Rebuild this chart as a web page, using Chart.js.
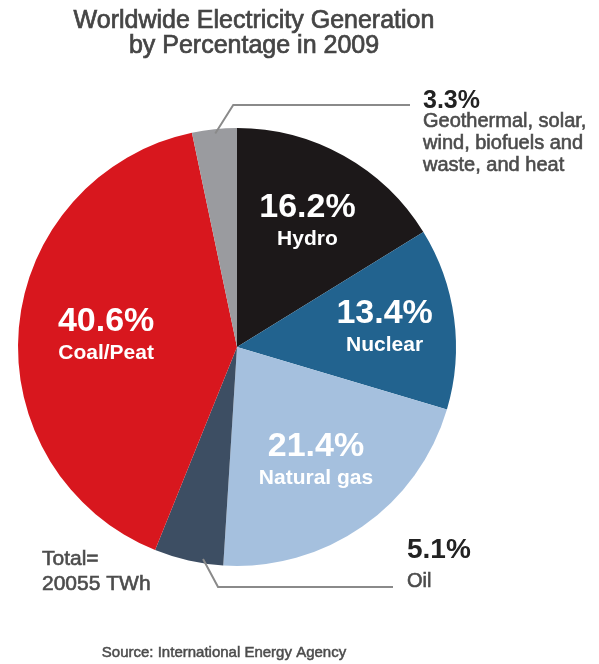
<!DOCTYPE html>
<html>
<head>
<meta charset="utf-8">
<title>Worldwide Electricity Generation 2009</title>
<script src="https://cdn.jsdelivr.net/npm/chart.js@4"></script>
<style>
  html, body { margin: 0; padding: 0; background: #fff; }
  #pie { display: block; }
</style>
</head>
<body>
<canvas id="pie" width="599" height="664"></canvas>
<script>
// Worldwide electricity generation by source, 2009 (IEA)

const categories = ['Hydro', 'Nuclear', 'Natural gas', 'Oil', 'Coal/Peat', 'Other'];
const shares = [16.2, 13.4, 21.4, 5.1, 40.6, 3.3];
const titleLines = ['Worldwide Electricity Generation', 'by Percentage in 2009'];
const otherLines = ['Geothermal, solar,', 'wind, biofuels and', 'waste, and heat'];
const totalLines = ['Total=', '20055 TWh'];
const sourceText = 'Source: International Energy Agency';

const sliceColors = [
    '#1c1819', // hydro
    '#22638f', // nuclear
    '#a5c0de', // natural gas
    '#3d4e63', // oil
    '#d8171e', // coal
    '#9a9b9f'  // other
];

const FONT = '"Liberation Sans", Arial, Helvetica, sans-serif';

// how far out (fraction of radius) the inside labels sit
const insideLabelPos = { 0: 0.66, 1: 0.68, 2: 0.63, 4: 0.60 };

function arcPoint(arc, along, frac) {
    const a = arc.startAngle + (arc.endAngle - arc.startAngle) * along;
    return {
        x: arc.x + Math.cos(a) * arc.outerRadius * frac,
        y: arc.y + Math.sin(a) * arc.outerRadius * frac
    };
}

// regular font with a thin outline, looks closer to a medium weight
function mediumText(ctx, text, x, y) {
    ctx.fillText(text, x, y);
    ctx.strokeText(text, x, y);
}

const labelPlugin = {
    id: 'sliceLabels',
    afterDraw(chart) {
        const ctx = chart.ctx;
        const arcs = chart.getDatasetMeta(0).data;
        ctx.save();

        // title
        ctx.fillStyle = '#454545';
        ctx.strokeStyle = '#454545';
        ctx.lineWidth = 0.7;
        ctx.textAlign = 'center';
        ctx.textBaseline = 'alphabetic';
        ctx.font = '25px ' + FONT;
        mediumText(ctx, titleLines[0], 254, 28);
        mediumText(ctx, titleLines[1], 254, 53);

        // labels inside the slices
        ctx.fillStyle = '#ffffff';
        for (const key of Object.keys(insideLabelPos)) {
            const i = +key;
            const p = arcPoint(arcs[i], 0.5, insideLabelPos[i]);
            ctx.font = 'bold 34px ' + FONT;
            ctx.fillText(shares[i].toFixed(1) + '%', p.x, p.y - 4);
            ctx.font = 'bold 21px ' + FONT;
            ctx.fillText(categories[i], p.x, p.y + 24);
        }

        // leader lines
        ctx.strokeStyle = '#8a8a8a';
        ctx.lineWidth = 2;
        let s = arcPoint(arcs[5], 0.51, 0.98);
        ctx.beginPath();
        ctx.moveTo(s.x, s.y);
        ctx.lineTo(s.x + 18, 105);
        ctx.lineTo(410, 105);
        ctx.stroke();

        s = arcPoint(arcs[3], 0.3, 0.98);
        ctx.beginPath();
        ctx.moveTo(s.x, s.y);
        ctx.lineTo(s.x + 15, 587);
        ctx.lineTo(393, 587);
        ctx.stroke();

        // outside labels
        ctx.textAlign = 'left';
        ctx.fillStyle = '#222222';
        ctx.font = 'bold 25px ' + FONT;
        ctx.fillText(shares[5].toFixed(1) + '%', 423, 108);
        ctx.fillStyle = '#4c4c4c';
        ctx.strokeStyle = '#4c4c4c';
        ctx.lineWidth = 0.6;
        ctx.font = '20px ' + FONT;
        otherLines.forEach((t, k) => mediumText(ctx, t, 423, 127 + k * 22));

        ctx.fillStyle = '#222222';
        ctx.font = 'bold 28px ' + FONT;
        ctx.fillText(shares[3].toFixed(1) + '%', 407, 558);
        ctx.fillStyle = '#4c4c4c';
        ctx.font = '20px ' + FONT;
        mediumText(ctx, categories[3], 407, 587);

        ctx.font = '21px ' + FONT;
        mediumText(ctx, totalLines[0], 42, 565);
        mediumText(ctx, totalLines[1], 42, 590);

        // source
        ctx.textAlign = 'center';
        ctx.lineWidth = 0.5;
        ctx.font = '15px ' + FONT;
        mediumText(ctx, sourceText, 224, 657);

        ctx.restore();
    }
};

new Chart(document.getElementById('pie'), {
    type: 'pie',
    data: {
        labels: categories,
        datasets: [{
            data: shares,
            backgroundColor: sliceColors,
            borderWidth: 0
        }]
    },
    options: {
        responsive: false,
        animation: false,
        layout: {
            padding: { left: 18, right: 143, top: 128, bottom: 98 }
        },
        plugins: {
            legend: { display: false },
            tooltip: { enabled: false }
        }
    },
    plugins: [labelPlugin]
});
</script>
</body>
</html>
